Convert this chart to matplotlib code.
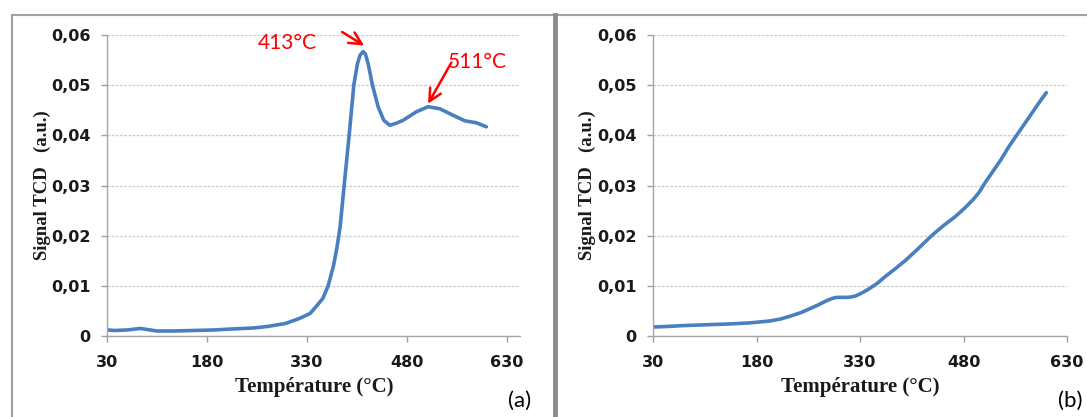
import matplotlib
matplotlib.use('Agg')
import matplotlib.pyplot as plt
from matplotlib.lines import Line2D

# TPR curve (a): temperature (°C) and TCD signal (a.u.)
temp_a = [32, 40, 60, 80, 90, 105, 130, 160, 190, 218, 250, 271, 298, 319, 335, 346,
          354, 362, 370, 375, 380, 386, 393.5, 400.5, 406, 410, 414.5, 418, 422, 428.5,
          437, 445.5, 454.5, 464, 474.5, 494.5, 512, 529.5, 549.5, 567, 584.5, 599.5]
signal_a = [0.0012, 0.0011, 0.0012, 0.0015, 0.0013, 0.0010, 0.0010, 0.0011, 0.0012, 0.0014,
            0.0016, 0.0019, 0.0025, 0.0035, 0.0045, 0.0062, 0.0075, 0.0100, 0.0140, 0.0175,
            0.0218, 0.0300, 0.0400, 0.0500, 0.0543, 0.0560, 0.0567, 0.0562, 0.0543, 0.0500,
            0.0457, 0.0430, 0.0420, 0.0424, 0.0430, 0.0447, 0.0457, 0.0453, 0.0440, 0.0429,
            0.0425, 0.0417]

# TPR curve (b)
temp_b = [32, 50, 78, 100, 119, 140, 169, 200, 215, 230, 245, 255, 268, 281, 290, 296,
          305, 311, 318, 324, 333, 342, 355, 367, 382, 397, 415, 433, 450, 468, 481,
          494, 503, 511, 522, 534, 546, 559, 571, 582, 591, 600]
signal_b = [0.0018, 0.0019, 0.0021, 0.0022, 0.0023, 0.0024, 0.0026, 0.0030, 0.0034, 0.0040,
            0.0047, 0.0053, 0.0061, 0.0070, 0.0075, 0.0077, 0.0077, 0.0077, 0.0078, 0.0080,
            0.0086, 0.0093, 0.0105, 0.0119, 0.0135, 0.0152, 0.0175, 0.0199, 0.0219, 0.0238,
            0.0254, 0.0272, 0.0287, 0.0305, 0.0327, 0.0351, 0.0378, 0.0404, 0.0428, 0.0450,
            0.0468, 0.0485]

x_ticks = [30, 180, 330, 480, 630]
y_ticks = [0, 0.01, 0.02, 0.03, 0.04, 0.05, 0.06]
y_ticklabels = ['0', '0,01', '0,02', '0,03', '0,04', '0,05', '0,06']

peak_labels = ['413°C', '511°C']
peak_temps = [413, 511]

W, H = 1087, 417
fig = plt.figure(figsize=(W / 100, H / 100), dpi=100)

line_color = '#4a7fbf'
serif = ['Liberation Serif', 'DejaVu Serif']


def setup_axes(ax, xmax):
    ax.set_xlim(30, xmax)
    ax.set_ylim(0, 0.06)
    ax.set_xticks(x_ticks)
    ax.set_xticklabels([str(t) for t in x_ticks])
    ax.set_yticks(y_ticks)
    ax.set_yticklabels(y_ticklabels)
    for lab in ax.get_xticklabels() + ax.get_yticklabels():
        lab.set_fontweight('bold')
        lab.set_fontsize(11.5)
        lab.set_color('#1a1a1a')
    ax.tick_params(axis='x', length=4, width=1, color='#a0a0a0', pad=10, direction='out')
    ax.tick_params(axis='y', length=4, width=1, color='#a0a0a0', pad=8, direction='out')
    ax.grid(axis='y', color='#cfcfcf', lw=1.0, ls=(0, (2, 1)))
    ax.set_axisbelow(True)
    for s in ['top', 'right']:
        ax.spines[s].set_visible(False)
    for s in ['left', 'bottom']:
        ax.spines[s].set_color('#a6a6a6')
        ax.spines[s].set_linewidth(1.0)


# panel (a)
ax1 = fig.add_axes([107 / W, (H - 336) / H, 413 / W, 301 / H])
setup_axes(ax1, 650)
ax1.plot(temp_a, signal_a, color=line_color, lw=2.6, solid_capstyle='round')

arrow = dict(arrowstyle='->', color='red', lw=1.8, mutation_scale=22, shrinkA=0, shrinkB=0)
ax1.annotate('', xy=(peak_temps[0] + 3, 0.0579), xytext=(383, 0.0606),
             arrowprops=arrow, annotation_clip=False)
ax1.text(301, 0.0584, peak_labels[0], color='red', fontsize=15, family=['Lato', 'DejaVu Sans'],
         ha='center', va='center')
ax1.annotate('', xy=(peak_temps[1] + 1, 0.0463), xytext=(547, 0.0545),
             arrowprops=arrow, annotation_clip=False)
ax1.text(586, 0.0546, peak_labels[1], color='red', fontsize=15, family=['Lato', 'DejaVu Sans'],
         ha='center', va='center')

# panel (b)
ax2 = fig.add_axes([653 / W, (H - 336) / H, 414 / W, 301 / H])
setup_axes(ax2, 630)
ax2.plot(temp_b, signal_b, color=line_color, lw=2.6, solid_capstyle='round')

# axis titles
for cx, ycx, letter_x, letter in [(314, 42, 520, '(a)'), (860, 587, 1070, '(b)')]:
    fig.text(cx / W, 1 - 387 / H, 'Température (°C)', family=serif, fontweight='bold',
             fontsize=15, ha='center', va='center', color='#1a1a1a')
    fig.text(ycx / W, 1 - 185 / H, 'Signal TCD   (a.u.)', family=serif, fontweight='bold',
             fontsize=13.5, rotation=90, ha='center', va='center', color='#1a1a1a')
    fig.text(letter_x / W, 1 - 401 / H, letter, family=['Lato', 'DejaVu Sans'],
             fontsize=16, ha='center', va='center', color='black')

# panel frames
frame = '#8c8c8c'
fig.add_artist(Line2D([12 / W, 12 / W], [0, 1 - 15 / H], color='#a0a0a0', lw=1.5))
fig.add_artist(Line2D([12 / W, 1], [1 - 15 / H, 1 - 15 / H], color='#a0a0a0', lw=1.5))
fig.add_artist(Line2D([555 / W, 555 / W], [0, 1 - 15 / H], color=frame, lw=3.5))

fig.savefig('out.png', dpi=100)
